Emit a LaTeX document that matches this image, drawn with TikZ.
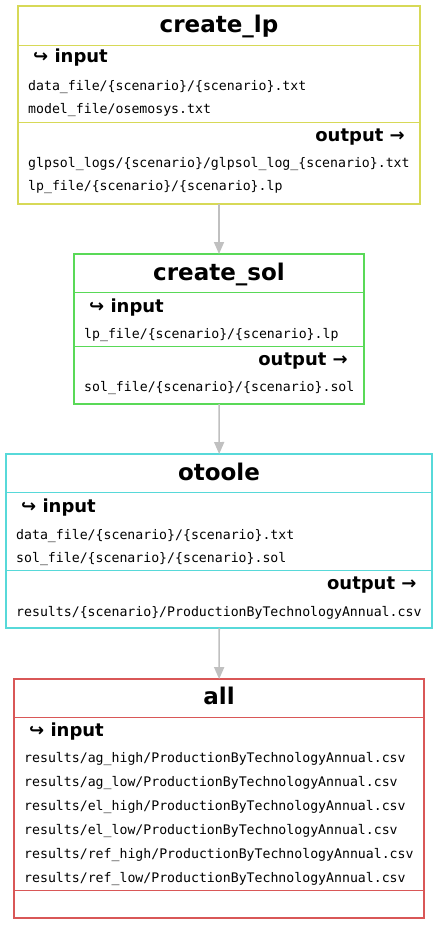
\documentclass[tikz,border=0pt]{standalone}
\usepackage{fontspec}
\setmainfont{DejaVu Sans}
\setmonofont{DejaVu Sans Mono}
\usetikzlibrary{arrows.meta}

\definecolor{lpcol}{RGB}{215,217,87}
\definecolor{solcol}{RGB}{89,217,87}
\definecolor{otcol}{RGB}{87,217,217}
\definecolor{allcol}{RGB}{217,87,87}
\definecolor{flowcol}{RGB}{192,192,192}

\tikzset{
  rulebox/.style={draw=#1, line width=2pt, inner sep=0pt, outer sep=0pt},
  sep/.style={draw=#1, line width=0.8pt},
  title/.style={anchor=base, inner sep=0pt, font=\fontsize{23pt}{27pt}\selectfont\bfseries},
  head/.style={anchor=base west, inner sep=0pt, font=\fontsize{18pt}{22pt}\selectfont\bfseries},
  headout/.style={anchor=base east, inner sep=0pt, font=\fontsize{18pt}{22pt}\selectfont\bfseries},
  flow/.style={draw=flowcol, line width=1.6pt, -{Triangle[length=12pt,width=10pt]}}
}

\begin{document}
\begin{tikzpicture}[x=1pt, y=-1pt]

        \useasboundingbox (0,0) rectangle (439,925);

        % rule boxes
        \node[rulebox=lpcol,  minimum width=402pt, minimum height=198pt] (lp)  at (219,105)   {};
        \node[rulebox=solcol, minimum width=290pt, minimum height=150pt] (sol) at (219,329)   {};
        \node[rulebox=otcol,  minimum width=426pt, minimum height=174pt] (ot)  at (219.3,541) {};
        \node[rulebox=allcol, minimum width=410pt, minimum height=239pt] (all) at (219,798.6) {};

        % separators
        \draw[sep=lpcol]  (18,45) -- (420,45);
        \draw[sep=lpcol]  (18,122) -- (420,122);
        \draw[sep=solcol] (74,292.7) -- (364,292.7);
        \draw[sep=solcol] (74,346.7) -- (364,346.7);
        \draw[sep=otcol]  (6,492.7) -- (432.6,492.7);
        \draw[sep=otcol]  (6,570) -- (432.6,570);
        \draw[sep=allcol] (14,717.3) -- (424,717.3);
        \draw[sep=allcol] (14,890) -- (424,890);

        % titles and headings
        \node[title] (lpname)  at (219,33)    {create\_lp};
        \node[head]  (lpin)    at (33,63)     {↪ input};
        \node[headout] (lpout) at (405,141.7) {output →};

        \node[title] (solname) at (219,280.7) {create\_sol};
        \node[head]  (solin)   at (89,312.7)  {↪ input};
        \node[headout] (solout) at (348,365)  {output →};

        \node[title] (otname)  at (219,480)   {otoole};
        \node[head]  (otin)    at (21,512.7)  {↪ input};
        \node[headout] (otout) at (416.7,589.3) {output →};

        \node[title] (allname) at (219,704)   {all};
        \node[head]  (allin)   at (29,736.7)  {↪ input};

        % files
        \begin{scope}[every node/.style={anchor=base west, inner sep=0pt,
            font=\fontsize{13.2pt}{16pt}\selectfont\ttfamily}]
          \node (lpf1)  at (28,90.7)  {data\_file/\{scenario\}/\{scenario\}.txt};
          \node (lpf2)  at (28,114)   {model\_file/osemosys.txt};
          \node (lpf3)  at (28,167.7) {glpsol\_logs/\{scenario\}/glpsol\_log\_\{scenario\}.txt};
          \node (lpf4)  at (28,191)   {lp\_file/\{scenario\}/\{scenario\}.lp};

          \node (solf1) at (84,338.3) {lp\_file/\{scenario\}/\{scenario\}.lp};
          \node (solf2) at (84,391.7) {sol\_file/\{scenario\}/\{scenario\}.sol};

          \node (otf1)  at (16,539)   {data\_file/\{scenario\}/\{scenario\}.txt};
          \node (otf2)  at (16,562.3) {sol\_file/\{scenario\}/\{scenario\}.sol};
          \node (otf3)  at (16,616.7) {results/\{scenario\}/ProductionByTechnologyAnnual.csv};

          \node (allf1) at (24,762.7) {results/ag\_high/ProductionByTechnologyAnnual.csv};
          \node (allf2) at (24,786.7) {results/ag\_low/ProductionByTechnologyAnnual.csv};
          \node (allf3) at (24,810.7) {results/el\_high/ProductionByTechnologyAnnual.csv};
          \node (allf4) at (24,834.7) {results/el\_low/ProductionByTechnologyAnnual.csv};
          \node (allf5) at (24,858.7) {results/ref\_high/ProductionByTechnologyAnnual.csv};
          \node (allf6) at (24,882.7) {results/ref\_low/ProductionByTechnologyAnnual.csv};
        \end{scope}

        % dependencies
        \path[flow] (lp)  -- (sol);
        \path[flow] (sol) -- (ot);
        \path[flow] (ot)  -- (all);

      \end{tikzpicture}
\end{document}
